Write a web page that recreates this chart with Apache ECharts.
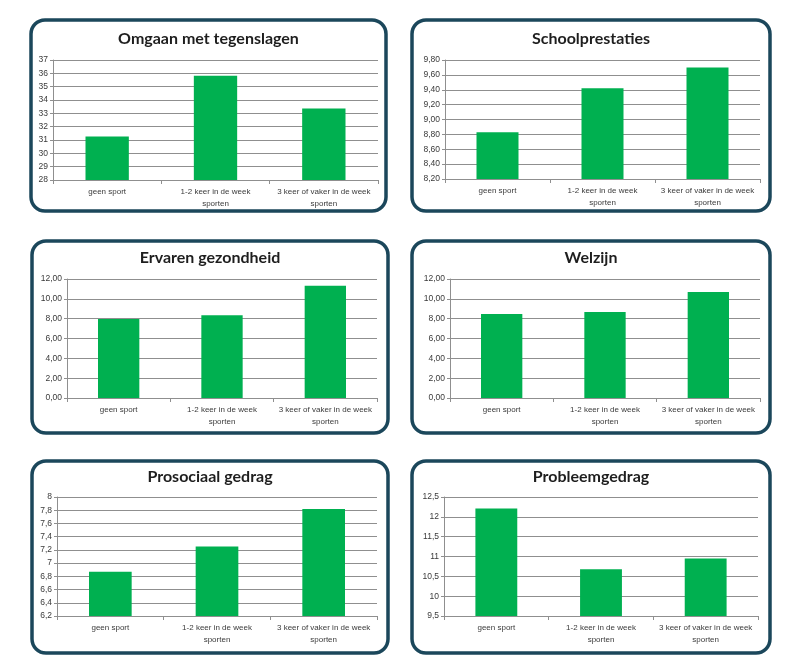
<!DOCTYPE html>
<html>
<head>
<meta charset="utf-8">
<script src="https://cdn.jsdelivr.net/npm/echarts@6/dist/echarts.min.js"></script>
<style>
html,body{margin:0;padding:0;background:#fff;}
#c{width:798px;height:668px;}
</style>
</head>
<body>
<div id="c"></div>
<script>
const categories = ['geen sport', '1-2 keer in de week\nsporten', '3 keer of vaker in de week\nsporten'];
const titles = ['Omgaan met tegenslagen', 'Schoolprestaties', 'Ervaren gezondheid', 'Welzijn', 'Prosociaal gedrag', 'Probleemgedrag'];
const omgaanValues = [31.26, 35.82, 33.36];
const schoolValues = [8.83, 9.42, 9.70];
const gezondheidValues = [7.97, 8.34, 11.32];
const welzijnValues = [8.46, 8.66, 10.68];
const prosociaalValues = [6.87, 7.25, 7.82];
const probleemValues = [12.21, 10.68, 10.95];
const yMins = [28, 8.2, 0, 0, 6.2, 9.5];
const yMaxs = [37, 9.8, 12, 12, 8, 12.5];
const yIntervals = [1, 0.2, 2, 2, 0.2, 0.5];
const yDecimals = [0, 2, 2, 2, -1, -1]; // -1 = trim trailing zeros

const allValues = [omgaanValues, schoolValues, gezondheidValues, welzijnValues, prosociaalValues, probleemValues];

// layout (pixels)
const panels = [
  {x:31, y:20, w:355, h:191},
  {x:412, y:20, w:358, h:191},
  {x:32, y:241, w:356, h:192},
  {x:412, y:241, w:358, h:192},
  {x:32, y:461, w:356, h:192},
  {x:412, y:461, w:358, h:192}
];
const grids = [
  {left:53, top:60, width:325, height:120},
  {left:445, top:60, width:315, height:119},
  {left:67, top:279, width:310, height:119},
  {left:450, top:279, width:310, height:119},
  {left:57, top:497, width:320, height:119},
  {left:444, top:497, width:314, height:119}
];
const titleY = [39, 39, 258, 258, 477, 477];

function fmt(v, d) {
  if (d >= 0) return v.toFixed(d).replace('.', ',');
  return String(parseFloat(v.toFixed(2))).replace('.', ',');
}

const gridColor = '#8f8f8f';
const labelColor = '#3a3a3a';
const font = '"Liberation Sans", Arial, sans-serif';

const option = {
  backgroundColor: '#ffffff',
  animation: false,
  grid: grids.map(g => ({left:g.left, top:g.top, width:g.width, height:g.height, containLabel:false})),
  xAxis: grids.map((g, i) => ({
    type: 'category',
    gridIndex: i,
    data: categories,
    boundaryGap: true,
    axisLine: {show:true, lineStyle:{color:gridColor, width:1}},
    axisTick: {show:true, length:4, lineStyle:{color:gridColor}},
    axisLabel: {color:labelColor, fontSize:8, fontFamily:font, lineHeight:12, margin:6, interval:0}
  })),
  yAxis: grids.map((g, i) => ({
    type: 'value',
    gridIndex: i,
    min: yMins[i],
    max: yMaxs[i],
    interval: yIntervals[i],
    axisLine: {show:true, lineStyle:{color:gridColor, width:1}},
    axisTick: {show:true, length:3, lineStyle:{color:gridColor}},
    splitLine: {show:true, lineStyle:{color:gridColor, width:1}},
    axisLabel: {color:labelColor, fontSize:8.5, fontFamily:font, margin:5,
      formatter: v => fmt(v, yDecimals[i])}
  })),
  series: allValues.map((vals, i) => ({
    type: 'bar',
    xAxisIndex: i,
    yAxisIndex: i,
    data: vals,
    barWidth: '40%',
    itemStyle: {color:'#00b050'}
  })),
  graphic: panels.map(p => ({
    type: 'rect',
    shape: {x:p.x, y:p.y, width:p.w, height:p.h, r:14},
    style: {fill:'none', stroke:'#1b475b', lineWidth:3.5},
    z: 100
  })).concat(panels.map((p, i) => ({
    type: 'text',
    x: p.x + p.w / 2,
    y: titleY[i],
    style: {text: titles[i], fill:'#1e1e1e', font:'bold 16px Lato, "Liberation Sans", sans-serif',
      textAlign:'center', textVerticalAlign:'middle'},
    z: 100
  })))
};

const chart = echarts.init(document.getElementById('c'), null, {renderer:'canvas'});
chart.setOption(option);
</script>
</body>
</html>
